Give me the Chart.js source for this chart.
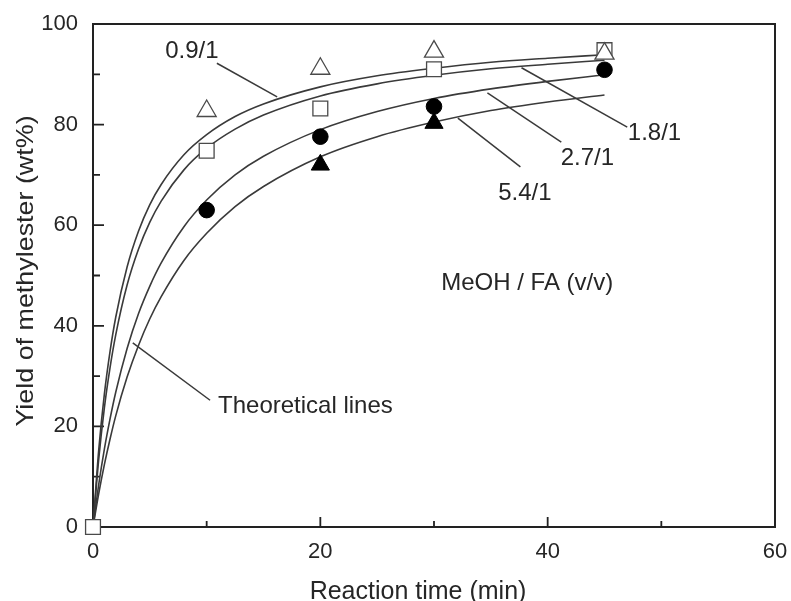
<!DOCTYPE html>
<html>
<head>
<meta charset="utf-8">
<script src="https://cdn.jsdelivr.net/npm/chart.js@4.4.1/dist/chart.umd.min.js"></script>
<style>
  html, body { margin: 0; padding: 0; background: #ffffff; }
  #wrap { width: 791px; height: 601px; }
</style>
</head>
<body>
<div id="wrap"><canvas id="chart" width="791" height="601"></canvas></div>
<script>
// Axis tick labels
const timeTicks = [0, 20, 40, 60];
const yieldTicks = [0, 20, 40, 60, 80, 100];

// MeOH / FA volume ratios
const ratioLabels = ['0.9/1', '1.8/1', '2.7/1', '5.4/1'];

// Measured yields of methyl ester (wt%) vs reaction time (min)
const time09 = [10, 20, 30, 45];
const yield09 = [82.7, 91.1, 94.5, 94.1];
const time18 = [0, 10, 20, 30, 45];
const yield18 = [0, 74.8, 83.2, 91.0, 94.8];
const time27 = [10, 20, 30, 45];
const yield27 = [63.0, 77.6, 83.6, 90.9];
const time54 = [20, 30];
const yield54 = [72.0, 80.3];

// Theoretical lines, sampled at these times (min)
const curveTime = [0, 0.5, 1, 1.5, 2, 3, 4, 5, 6, 8, 10, 12.5, 15, 20, 25, 30, 35, 40, 45];
const curve09 = [0, 15.2, 26.4, 34.9, 41.7, 51.7, 58.8, 64.1, 68.1, 74.0, 78.0, 81.6, 84.1, 87.5, 89.7, 91.2, 92.4, 93.2, 93.9];
const curve18 = [0, 13.4, 23.7, 31.7, 38.2, 48.1, 55.2, 60.6, 64.8, 71.0, 75.3, 79.1, 81.9, 85.7, 88.1, 89.8, 91.1, 92.0, 92.8];
const curve27 = [0, 8.4, 15.5, 21.5, 26.8, 35.5, 42.4, 47.9, 52.5, 59.7, 65.0, 70.0, 73.7, 79.0, 82.6, 85.2, 87.1, 88.6, 89.9];
const curve54 = [0, 6.6, 12.4, 17.5, 22.1, 29.8, 36.1, 41.4, 45.8, 53.0, 58.4, 63.7, 67.7, 73.6, 77.6, 80.5, 82.8, 84.5, 85.9];

const toPoints = (xs, ys) => xs.map((x, i) => ({ x: x, y: ys[i] }));

const INK = '#222222';
const TEXT = '#262626';

// Callout texts with their leader lines, in data units
const callouts = [
  { text: ratioLabels[0], at: [8.7, 94.6], align: 'center', from: [10.9, 92.2], to: [16.2, 85.5] },
  { text: ratioLabels[1], at: [49.4, 78.3], align: 'center', from: [47.0, 79.5], to: [37.7, 91.3] },
  { text: ratioLabels[2], at: [43.5, 73.2], align: 'center', from: [41.2, 76.5], to: [34.7, 86.3] },
  { text: ratioLabels[3], at: [38.0, 66.4], align: 'center', from: [37.6, 71.6], to: [32.1, 81.3] },
  { text: 'MeOH / FA (v/v)', at: [38.2, 48.5], align: 'center' },
  { text: 'Theoretical lines', at: [11.0, 23.9], align: 'left', from: [10.3, 25.2], to: [3.5, 36.6] }
];

const curveStyle = {
  showLine: true,
  pointRadius: 0,
  borderColor: '#3a3a3a',
  borderWidth: 1.6,
  fill: false,
  cubicInterpolationMode: 'monotone',
  order: 10
};

const markerBase = { showLine: false, clip: false, order: 0 };

// Frame with inward major/minor ticks
const framePlugin = {
  id: 'frame',
  beforeDatasetsDraw(chart) {
    const { ctx, chartArea: a, scales } = chart;
    ctx.save();
    ctx.strokeStyle = INK;
    ctx.lineWidth = 2;
    ctx.strokeRect(a.left, a.top, a.right - a.left, a.bottom - a.top);
    ctx.lineWidth = 1.8;
    ctx.beginPath();
    scales.x.ticks.forEach(t => {
      if (t.value <= scales.x.min || t.value >= scales.x.max) return;
      const px = scales.x.getPixelForValue(t.value);
      const len = timeTicks.includes(t.value) ? 10 : 6;
      ctx.moveTo(px, a.bottom);
      ctx.lineTo(px, a.bottom - len);
    });
    scales.y.ticks.forEach(t => {
      if (t.value <= scales.y.min || t.value >= scales.y.max) return;
      const py = scales.y.getPixelForValue(t.value);
      const len = yieldTicks.includes(t.value) ? 11 : 7;
      ctx.moveTo(a.left, py);
      ctx.lineTo(a.left + len, py);
    });
    ctx.stroke();
    ctx.restore();
  }
};

// Axis titles and callouts
const textPlugin = {
  id: 'texts',
  afterDatasetsDraw(chart) {
    const { ctx, scales } = chart;
    const X = v => scales.x.getPixelForValue(v);
    const Y = v => scales.y.getPixelForValue(v);
    ctx.save();
    ctx.fillStyle = TEXT;
    ctx.strokeStyle = '#3a3a3a';
    ctx.lineWidth = 1.5;
    ctx.font = '24px "Liberation Sans", Arial, sans-serif';
    ctx.textBaseline = 'middle';
    callouts.forEach(c => {
      if (c.from) {
        ctx.beginPath();
        ctx.moveTo(X(c.from[0]), Y(c.from[1]));
        ctx.lineTo(X(c.to[0]), Y(c.to[1]));
        ctx.stroke();
      }
      ctx.textAlign = c.align;
      ctx.fillText(c.text, X(c.at[0]), Y(c.at[1]));
    });

    // x-axis title
    ctx.font = '25px "Liberation Sans", Arial, sans-serif';
    ctx.textAlign = 'center';
    ctx.textBaseline = 'alphabetic';
    ctx.fillText('Reaction time (min)', 418, 599);

    // y-axis title
    ctx.font = '24px "Liberation Sans", Arial, sans-serif';
    ctx.translate(33, 271);
    ctx.rotate(-Math.PI / 2);
    ctx.scale(1.12, 1);
    ctx.fillText('Yield of methylester (wt%)', 0, 0);
    ctx.restore();
  }
};

new Chart(document.getElementById('chart'), {
  type: 'scatter',
  data: {
    datasets: [
      Object.assign({ label: ratioLabels[0], data: toPoints(time09, yield09), pointStyle: 'triangle', pointRadius: 11,
        pointBorderWidth: 1.3, backgroundColor: '#ffffff', borderColor: '#4a4a4a' }, markerBase),
      Object.assign({ label: ratioLabels[1], data: toPoints(time18, yield18), pointStyle: 'rect', pointRadius: 10.5,
        pointBorderWidth: 1.3, backgroundColor: '#ffffff', borderColor: '#4a4a4a' }, markerBase),
      Object.assign({ label: ratioLabels[2], data: toPoints(time27, yield27), pointStyle: 'circle', pointRadius: 7.8,
        pointBorderWidth: 1, backgroundColor: '#000000', borderColor: '#000000' }, markerBase),
      Object.assign({ label: ratioLabels[3], data: toPoints(time54, yield54), pointStyle: 'triangle', pointRadius: 10.5,
        pointBorderWidth: 1, backgroundColor: '#000000', borderColor: '#000000' }, markerBase),
      Object.assign({ label: 'theory ' + ratioLabels[0], data: toPoints(curveTime, curve09) }, curveStyle),
      Object.assign({ label: 'theory ' + ratioLabels[1], data: toPoints(curveTime, curve18) }, curveStyle),
      Object.assign({ label: 'theory ' + ratioLabels[2], data: toPoints(curveTime, curve27) }, curveStyle),
      Object.assign({ label: 'theory ' + ratioLabels[3], data: toPoints(curveTime, curve54) }, curveStyle)
    ]
  },
  options: {
    responsive: false,
    animation: false,
    events: [],
    layout: { padding: { left: 0, right: 16, top: 24, bottom: 0 } },
    plugins: { legend: { display: false }, tooltip: { enabled: false } },
    scales: {
      x: {
        type: 'linear',
        min: 0, max: 60,
        grid: { display: false, drawTicks: false },
        border: { display: false },
        ticks: {
          stepSize: 10,
          padding: 12,
          color: TEXT,
          font: { family: '"Liberation Sans", Arial, sans-serif', size: 22 },
          maxRotation: 0,
          autoSkip: false,
          callback: v => (timeTicks.includes(v) ? String(v) : '')
        },
        afterFit: s => { s.height = 74; s.paddingLeft = 0; s.paddingRight = 0; }
      },
      y: {
        type: 'linear',
        min: 0, max: 100,
        grid: { display: false, drawTicks: false },
        border: { display: false },
        ticks: {
          stepSize: 10,
          padding: 15,
          color: TEXT,
          font: { family: '"Liberation Sans", Arial, sans-serif', size: 22 },
          autoSkip: false,
          callback: v => (yieldTicks.includes(v) ? String(v) : '')
        },
        afterFit: s => { s.width = 93; s.paddingTop = 0; s.paddingBottom = 0; }
      }
    }
  },
  plugins: [framePlugin, textPlugin]
});
</script>
</body>
</html>
